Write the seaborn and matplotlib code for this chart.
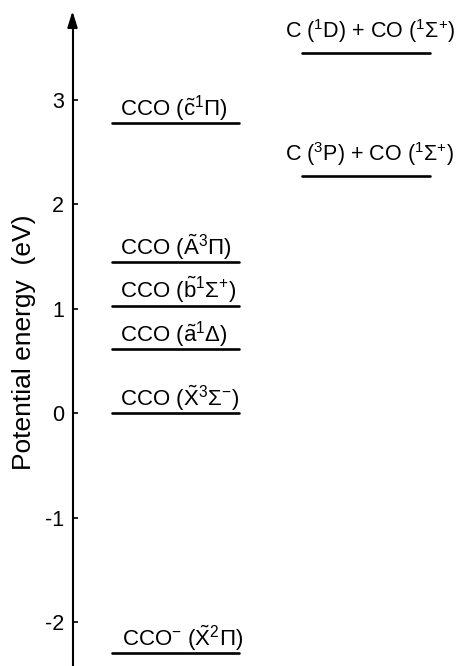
import matplotlib
matplotlib.use("Agg")
import matplotlib.pyplot as plt
import matplotlib.transforms as mtransforms
import seaborn as sns
import pandas as pd

# ---- data ----
states = [
    r'CCO ($\tilde{\mathrm{c}}^{1}\Pi$)',
    r'CCO ($\tilde{\mathrm{A}}^{3}\Pi$)',
    r'CCO ($\tilde{\mathrm{b}}^{1}\Sigma^{+}$)',
    r'CCO ($\tilde{\mathrm{a}}^{1}\Delta$)',
    r'CCO ($\tilde{\mathrm{X}}^{3}\Sigma^{-}$)',
    r'CCO$^{-}$ ($\tilde{\mathrm{X}}^{2}\Pi$)',
    r'C ($^{1}$D) + CO ($^{1}\Sigma^{+}$)',
    r'C ($^{3}$P) + CO ($^{1}\Sigma^{+}$)',
]
energies = [2.78, 1.445, 1.03, 0.61, 0.0, -2.30, 3.45, 2.27]
columns = ["left", "left", "left", "left", "left", "left", "right", "right"]
yticks = [-2, -1, 0, 1, 2, 3]
ytick_labels = ["-2", "-1", "0", "1", "2", "3"]
ylabel = "Potential energy  (eV)"

# ---- style ----
sns.set_theme(style="white")
plt.rcParams['font.family'] = ['Liberation Sans', 'DejaVu Sans']
plt.rcParams['mathtext.fontset'] = 'custom'
plt.rcParams['mathtext.rm'] = 'Liberation Sans'
plt.rcParams['mathtext.it'] = 'Liberation Sans:italic'
plt.rcParams['mathtext.bf'] = 'Liberation Sans:bold'

col_bounds = {"left": (112, 239), "right": (302, 430)}
label_x = {"left": 120, "right": 285}
label_dy = {"left": 5.5, "right": 11.0}
label_fs = {"left": 16, "right": 15.5}

rows = []
for s, e, c in zip(states, energies, columns):
    x0, x1 = col_bounds[c]
    rows.append({"state": s, "x": x0, "E": e})
    rows.append({"state": s, "x": x1, "E": e})
df = pd.DataFrame(rows)

fig = plt.figure(figsize=(4.61, 6.66), dpi=100)
ax = fig.add_axes([0, 0, 1, 1])
ax.set_facecolor('white')

sns.lineplot(data=df, x="x", y="E", units="state", estimator=None,
             color="black", linewidth=1.9, ax=ax, legend=False)

for s, e, c in zip(states, energies, columns):
    lx = label_x[c] + (2 if s.startswith('CCO$^') else 0)
    ax.annotate(s, xy=(lx, e), xytext=(0, label_dy[c]), textcoords='offset points',
                ha='left', va='baseline', fontsize=label_fs[c], color='black')

ax.set_xlim(0, 461)
ax.set_ylim(-2.421, 3.957)

for sp in ["top", "right", "bottom"]:
    ax.spines[sp].set_visible(False)
ax.spines["left"].set_position(("data", 72.5))
ax.spines["left"].set_color("black")
ax.spines["left"].set_linewidth(1.5)
ax.spines["left"].set_bounds(-2.421, 3.75)
ax.annotate('', xy=(72.5, 3.85), xytext=(72.5, 3.70),
            arrowprops=dict(arrowstyle='-|>,head_length=0.8,head_width=0.25',
                            color='black', lw=1.5, shrinkA=0, shrinkB=0))

ax.set_yticks(yticks)
ax.set_yticklabels(ytick_labels)
ax.set_xticks([])
ax.tick_params(axis='y', direction='in', length=3.5, width=1.2, pad=6,
               labelsize=15.5, colors='black', left=True)
ax.set_xlabel("")
ax.set_ylabel("")
ax.text(24, 0.486, ylabel,
        transform=mtransforms.blended_transform_factory(ax.transData, ax.transAxes),
        rotation=90, ha='center', va='center', fontsize=19, color='black')

fig.savefig("out.png", dpi=100, facecolor='white')
